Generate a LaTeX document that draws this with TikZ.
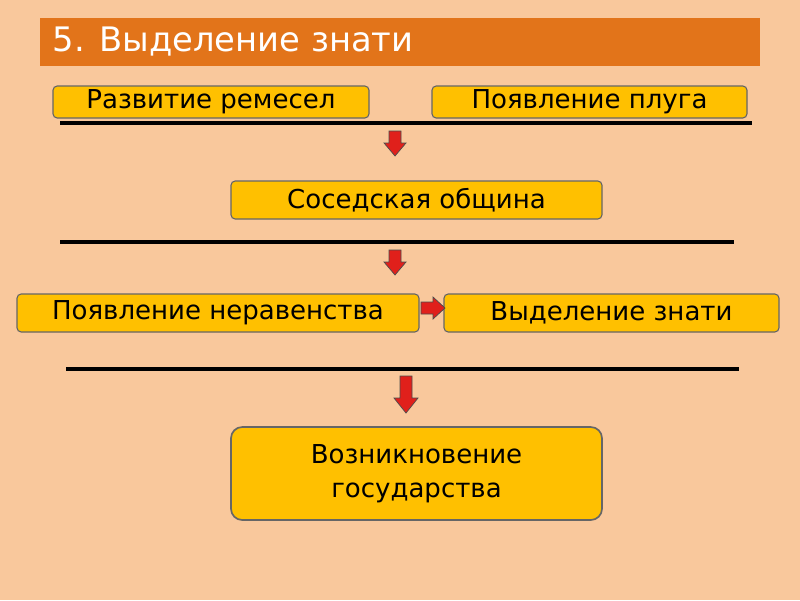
\documentclass[tikz,border=0pt]{standalone}
\usepackage{fontspec}
\setmainfont{DejaVu Sans}
\definecolor{bg}{HTML}{F9C89C}
\definecolor{bar}{HTML}{E2741A}
\definecolor{boxy}{HTML}{FFC000}
\definecolor{arr}{HTML}{E0201B}
\tikzset{
 box/.style={draw=gray!80!black, line width=0.8pt, fill=boxy, rounded corners=3pt, inner sep=0pt, font=\fontsize{18.5}{24}\selectfont, align=center},
 sep/.style={line width=2.2pt, black},
 blk/.style={draw=black!70, fill=arr, line width=0.5pt}
}
\begin{document}
\begin{tikzpicture}[x=0.025cm,y=-0.025cm]
\useasboundingbox (0,0) rectangle (800,600);
\fill[bg] (0,0) rectangle (800,600);
\fill[bar] (40,18) rectangle (760,66);
\node[anchor=west, white, font=\fontsize{24}{28}\selectfont] (title) at (48,42) {5. Выделение знати};
\node[box, minimum width=316*0.025cm, minimum height=32*0.025cm] (b1) at (211,102) {Развитие ремесел};
\node[box, minimum width=315*0.025cm, minimum height=32*0.025cm] (b2) at (589.5,102) {Появление плуга};
\draw[sep] (60,123) -- (752,123);
\draw[blk] (389,131) -- (401,131) -- (401,143) -- (406,143) -- (395,156) -- (384,143) -- (389,143) -- cycle;
\node[box, minimum width=371*0.025cm, minimum height=38*0.025cm] (b3) at (416.5,200) {Соседская община};
\draw[sep] (60,242) -- (734,242);
\draw[blk] (389,250) -- (401,250) -- (401,262) -- (406,262) -- (395,275) -- (384,262) -- (389,262) -- cycle;
\node[box, minimum width=402*0.025cm, minimum height=38*0.025cm] (b4) at (218,313) {Появление неравенства};
\node[box, minimum width=335*0.025cm, minimum height=38*0.025cm] (b5) at (611.5,313) {Выделение знати};
\draw[blk] (421,302) -- (433,302) -- (433,297) -- (445,308) -- (433,319) -- (433,314) -- (421,314) -- cycle;
\draw[sep] (66,369) -- (739,369);
\draw[blk] (400,376) -- (412,376) -- (412,398) -- (418,398) -- (406,413) -- (394,398) -- (400,398) -- cycle;
\node[box, minimum width=371*0.025cm, minimum height=93*0.025cm, rounded corners=8pt, line width=1.2pt] (b6) at (416.5,473.5) {Возникновение\\государства};
\end{tikzpicture}
\end{document}
